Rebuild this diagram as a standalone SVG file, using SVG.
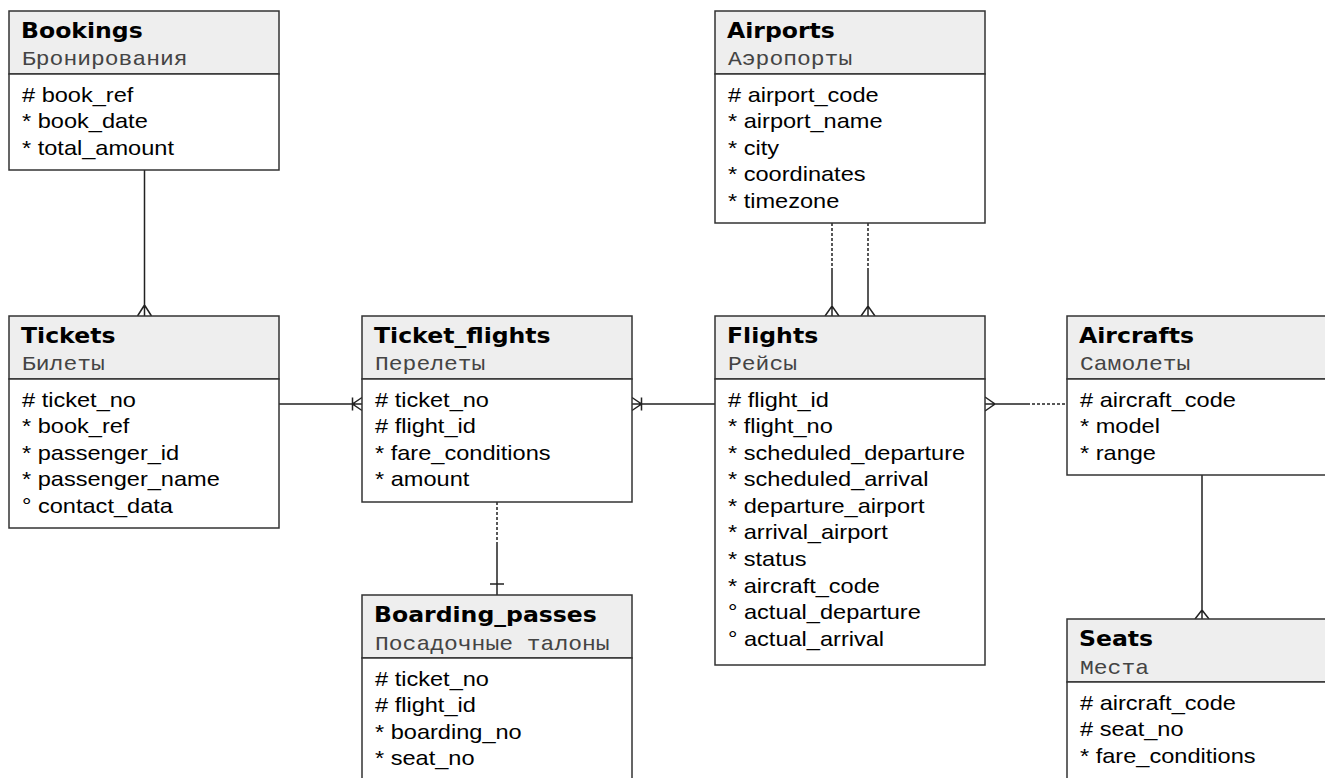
<svg xmlns="http://www.w3.org/2000/svg" width="1325" height="778" viewBox="0 0 1325 778">
<style>
.hdr{fill:#eeeeee;stroke:#333;stroke-width:1.5}
.body{fill:#ffffff;stroke:#333;stroke-width:1.5}
.title{font-family:"DejaVu Sans",sans-serif;font-weight:bold;font-size:20.5px;fill:#000}
.sub{font-family:"Liberation Mono",monospace;font-size:20px;fill:#444}
.row{font-family:"Liberation Sans",Arial,sans-serif;font-size:20.5px;fill:#000}
.ln{stroke:#222;stroke-width:1.5;fill:none}
.dash{stroke-dasharray:3 2}
</style>
<rect width="1325" height="778" fill="#fff"/>
<g id="connectors">
  <path class="ln" d="M144.5 170V316M137.5 316L144.5 305L151.5 316"/>
  <path class="ln" d="M279 404H362M362 397.5L352.5 404L362 410.5M352.5 397.5V410.5"/>
  <path class="ln" d="M632 404H715M632 397.5L641.5 404L632 410.5M641.5 397.5V410.5"/>
  <path class="ln dash" d="M832 223V270M868 223V270"/>
  <path class="ln" d="M832 270V316M825 316L832 306L839 316M868 270V316M861 316L868 306L875 316"/>
  <path class="ln" d="M985 404H1027M985 397L995 404L985 411"/>
  <path class="ln dash" d="M1027 404H1067"/>
  <path class="ln" d="M1202 475V619M1195 619L1202 610L1209 619"/>
  <path class="ln dash" d="M497 502V545"/>
  <path class="ln" d="M497 545V595M490 584H504"/>
</g>
<g id="bookings">
  <rect class="hdr" x="9" y="11" width="270" height="63"/>
  <rect class="body" x="9" y="74" width="270" height="96"/>
  <text class="title" transform="matrix(1.15 0 0 1 21 38)">Bookings</text>
  <text class="sub" transform="matrix(1.15 0 0 1 22 65)">Бронирования</text>
  <text class="row" transform="matrix(1.15 0 0 1 22 101.5)"><tspan x="0" y="0"># book_ref</tspan><tspan x="0" y="26.6">* book_date</tspan><tspan x="0" y="53.2">* total_amount</tspan></text>
</g>
<g id="airports">
  <rect class="hdr" x="715" y="11" width="270" height="63"/>
  <rect class="body" x="715" y="74" width="270" height="149"/>
  <text class="title" transform="matrix(1.15 0 0 1 727 38)">Airports</text>
  <text class="sub" transform="matrix(1.15 0 0 1 728 65)">Аэропорты</text>
  <text class="row" transform="matrix(1.15 0 0 1 728 101.5)"><tspan x="0" y="0"># airport_code</tspan><tspan x="0" y="26.6">* airport_name</tspan><tspan x="0" y="53.2">* city</tspan><tspan x="0" y="79.8">* coordinates</tspan><tspan x="0" y="106.4">* timezone</tspan></text>
</g>
<g id="tickets">
  <rect class="hdr" x="9" y="316" width="270" height="63"/>
  <rect class="body" x="9" y="379" width="270" height="149"/>
  <text class="title" transform="matrix(1.15 0 0 1 21 343)">Tickets</text>
  <text class="sub" transform="matrix(1.15 0 0 1 22 370)">Билеты</text>
  <text class="row" transform="matrix(1.15 0 0 1 22 406.5)"><tspan x="0" y="0"># ticket_no</tspan><tspan x="0" y="26.6">* book_ref</tspan><tspan x="0" y="53.2">* passenger_id</tspan><tspan x="0" y="79.8">* passenger_name</tspan><tspan x="0" y="106.4">° contact_data</tspan></text>
</g>
<g id="ticket_flights">
  <rect class="hdr" x="362" y="316" width="270" height="63"/>
  <rect class="body" x="362" y="379" width="270" height="123"/>
  <text class="title" transform="matrix(1.15 0 0 1 374 343)">Ticket_flights</text>
  <text class="sub" transform="matrix(1.15 0 0 1 375 370)">Перелеты</text>
  <text class="row" transform="matrix(1.15 0 0 1 375 406.5)"><tspan x="0" y="0"># ticket_no</tspan><tspan x="0" y="26.6"># flight_id</tspan><tspan x="0" y="53.2">* fare_conditions</tspan><tspan x="0" y="79.8">* amount</tspan></text>
</g>
<g id="flights">
  <rect class="hdr" x="715" y="316" width="270" height="63"/>
  <rect class="body" x="715" y="379" width="270" height="286"/>
  <text class="title" transform="matrix(1.15 0 0 1 727 343)">Flights</text>
  <text class="sub" transform="matrix(1.15 0 0 1 728 370)">Рейсы</text>
  <text class="row" transform="matrix(1.15 0 0 1 728 406.5)"><tspan x="0" y="0"># flight_id</tspan><tspan x="0" y="26.6">* flight_no</tspan><tspan x="0" y="53.2">* scheduled_departure</tspan><tspan x="0" y="79.8">* scheduled_arrival</tspan><tspan x="0" y="106.4">* departure_airport</tspan><tspan x="0" y="133">* arrival_airport</tspan><tspan x="0" y="159.6">* status</tspan><tspan x="0" y="186.2">* aircraft_code</tspan><tspan x="0" y="212.8">° actual_departure</tspan><tspan x="0" y="239.4">° actual_arrival</tspan></text>
</g>
<g id="aircrafts">
  <rect class="hdr" x="1067" y="316" width="270" height="63"/>
  <rect class="body" x="1067" y="379" width="270" height="96"/>
  <text class="title" transform="matrix(1.15 0 0 1 1079 343)">Aircrafts</text>
  <text class="sub" transform="matrix(1.15 0 0 1 1080 370)">Самолеты</text>
  <text class="row" transform="matrix(1.15 0 0 1 1080 406.5)"><tspan x="0" y="0"># aircraft_code</tspan><tspan x="0" y="26.6">* model</tspan><tspan x="0" y="53.2">* range</tspan></text>
</g>
<g id="boarding_passes">
  <rect class="hdr" x="362" y="595" width="270" height="63"/>
  <rect class="body" x="362" y="658" width="270" height="140"/>
  <text class="title" transform="matrix(1.15 0 0 1 374 622)">Boarding_passes</text>
  <text class="sub" transform="matrix(1.15 0 0 1 375 649.5)">Посадочные талоны</text>
  <text class="row" transform="matrix(1.15 0 0 1 375 685.5)"><tspan x="0" y="0"># ticket_no</tspan><tspan x="0" y="26.6"># flight_id</tspan><tspan x="0" y="53.2">* boarding_no</tspan><tspan x="0" y="79.8">* seat_no</tspan></text>
</g>
<g id="seats">
  <rect class="hdr" x="1067" y="619" width="270" height="63"/>
  <rect class="body" x="1067" y="682" width="270" height="140"/>
  <text class="title" transform="matrix(1.15 0 0 1 1079 646)">Seats</text>
  <text class="sub" transform="matrix(1.15 0 0 1 1080 673.5)">Места</text>
  <text class="row" transform="matrix(1.15 0 0 1 1080 709.5)"><tspan x="0" y="0"># aircraft_code</tspan><tspan x="0" y="26.6"># seat_no</tspan><tspan x="0" y="53.2">* fare_conditions</tspan></text>
</g>
</svg>
